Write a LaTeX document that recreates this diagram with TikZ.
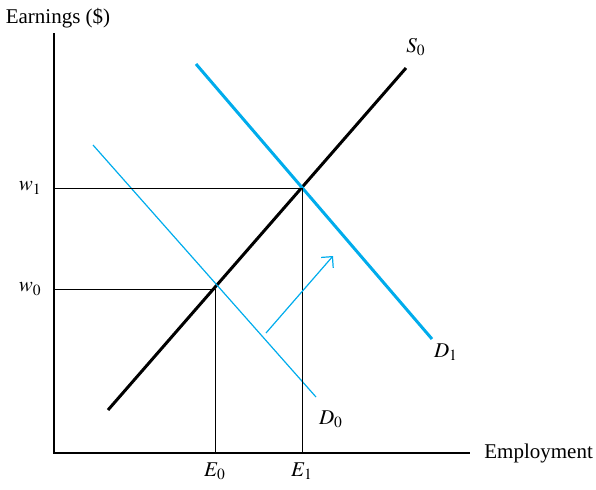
\documentclass[tikz,border=0pt]{standalone}
\usepackage{mathptmx}
\usepackage{fontspec}
\setmainfont{Liberation Serif}
\usetikzlibrary{arrows.meta}
\definecolor{labcyan}{RGB}{0,172,236}
\tikzset{>=Straight Barb,every node/.style={font=\fontsize{10.5}{12}\selectfont,inner sep=1pt},axis/.style={line width=.75pt},guide/.style={line width=.5pt},supply/.style={line width=1.5pt},demand/.style={labcyan,line width=.6pt},newdemand/.style={labcyan,line width=1.5pt}}

\begin{document}
\begin{tikzpicture}[x=.5pt,y=-.5pt]
\useasboundingbox (0,0) rectangle (596,489);
\coordinate (O) at (54,453);\coordinate (ytop) at (54,33);\coordinate (xend) at (470,453);
\draw[axis] (ytop)--(O)--(xend);\node (earn) at (58,18){Earnings (\$)};\node[right] (empl) at (482,453){Employment};
\coordinate (s0a) at (108,410);\coordinate (s0b) at (406,68);\draw[supply] (s0a)--(s0b);\node (s0) at (416,47){$S_0$};
\coordinate (d0a) at (93,145);\coordinate (d0b) at (316,397);\draw[demand] (d0a)--(d0b);\node (d0) at (331,419){$D_0$};
\coordinate (d1a) at (196,64);\coordinate (d1b) at (432,339);\draw[newdemand] (d1a)--(d1b);\node (d1) at (446,352){$D_1$};
\coordinate (eq0) at (215,289);\coordinate (eq1) at (302,188);
\node[left] (w0) at (44,289){$w_0$};\node[left] (w1) at (44,188){$w_1$};
\node[below] (e0) at (215,460){$E_0$};\node[below] (e1) at (302,460){$E_1$};
\draw[guide] (eq0-|O)--(eq0)--(eq0|-O);\draw[guide] (eq1-|O)--(eq1)--(eq1|-O);
\coordinate (sh0) at (266,333);\coordinate (sh1) at (333,256);\draw[demand,->,>={Straight Barb[length=4pt,width=8pt]}] (sh0)--(sh1);
\end{tikzpicture}
\end{document}
